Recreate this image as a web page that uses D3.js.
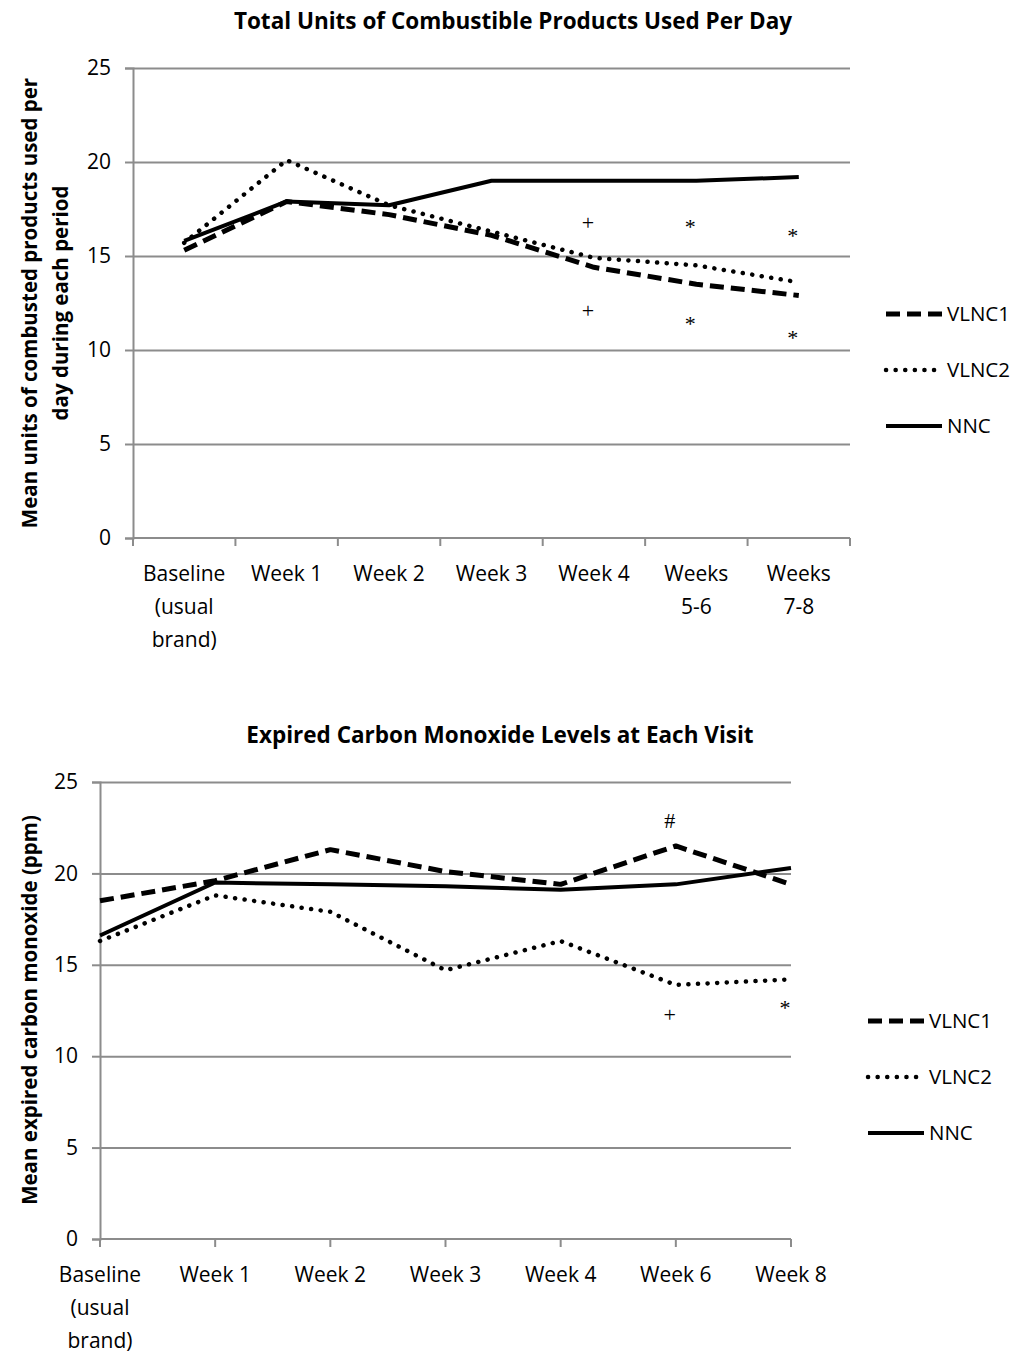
<!DOCTYPE html>
<html>
<head>
<meta charset="utf-8">
<script src="https://cdn.jsdelivr.net/npm/d3@7"></script>
<style>
  body { margin: 0; background: #fff; }
  text { font-family: "Open Sans", Lato, sans-serif; fill: #000; }
</style>
</head>
<body>
<div id="chart"></div>
<script>
// ---- data: top chart ----
const topCategories = [["Baseline", "(usual", "brand)"], ["Week 1"], ["Week 2"], ["Week 3"], ["Week 4"], ["Weeks", "5-6"], ["Weeks", "7-8"]];
const topVLNC1 = [15.3, 17.9, 17.2, 16.1, 14.4, 13.5, 12.9];
const topVLNC2 = [15.7, 20.1, 17.7, 16.3, 14.9, 14.5, 13.6];
const topNNC = [15.8, 17.9, 17.7, 19.0, 19.0, 19.0, 19.2];
const topTicks = [0, 5, 10, 15, 20, 25];
const topMarks = [
  {cat: 4, value: 16.8, sym: "+"}, {cat: 5, value: 16.6, sym: "*"}, {cat: 6, value: 16.1, sym: "*"},
  {cat: 4, value: 12.1, sym: "+"}, {cat: 5, value: 11.4, sym: "*"}, {cat: 6, value: 10.7, sym: "*"}
];

// ---- data: bottom chart ----
const botCategories = [["Baseline", "(usual", "brand)"], ["Week 1"], ["Week 2"], ["Week 3"], ["Week 4"], ["Week 6"], ["Week 8"]];
const botVLNC1 = [18.5, 19.6, 21.3, 20.1, 19.4, 21.5, 19.4];
const botVLNC2 = [16.3, 18.8, 17.9, 14.7, 16.3, 13.9, 14.2];
const botNNC = [16.6, 19.5, 19.4, 19.3, 19.1, 19.4, 20.3];
const botTicks = [0, 5, 10, 15, 20, 25];
const botMarks = [
  {cat: 5, value: 22.9, sym: "#"}, {cat: 5, value: 12.3, sym: "+"}, {cat: 6, value: 12.7, sym: "*"}
];

const seriesNames = ["VLNC1", "VLNC2", "NNC"];
const seriesStyle = {
  VLNC1: {dash: "14,7", width: 5, cap: "butt"},
  VLNC2: {dash: "0.1,9.5", width: 4.5, cap: "round"},
  NNC: {dash: null, width: 4, cap: "butt"}
};

const svg = d3.select("#chart").append("svg")
    .attr("width", 1021)
    .attr("height", 1355);

function drawChart(cfg) {
  const g = svg.append("g");
  const y = d3.scaleLinear().domain([0, 25]).range([cfg.bottom, cfg.top]);
  const keys = cfg.categories.map((d, i) => i);
  let x, xc;
  if (cfg.between) {
    x = d3.scaleBand().domain(keys).range([cfg.left, cfg.right]);
    xc = i => x(i) + x.bandwidth() / 2;
  } else {
    x = d3.scalePoint().domain(keys).range([cfg.left, cfg.right]);
    xc = i => x(i);
  }

  // gridlines
  g.append("g")
      .attr("transform", "translate(" + cfg.left + ",0)")
      .call(d3.axisRight(y).tickValues(cfg.ticks.slice(1)).tickSize(cfg.right - cfg.left).tickFormat(""))
      .call(a => a.select(".domain").remove())
      .selectAll("line").attr("stroke", "#8c8c8c").attr("stroke-width", 2);

  // y axis
  const ya = g.append("g")
      .attr("transform", "translate(" + cfg.left + ",0)")
      .call(d3.axisLeft(y).tickValues(cfg.ticks).tickSize(8).tickPadding(cfg.yPad));
  ya.select(".domain").attr("stroke", "#8c8c8c").attr("stroke-width", 2);
  ya.selectAll("line").attr("stroke", "#8c8c8c").attr("stroke-width", 2);
  ya.selectAll("text").style("font-size", "21px").attr("fill", "#000");

  // x axis line + tick marks
  const boundaries = cfg.between
      ? keys.map(k => x(k)).concat([cfg.right])
      : keys.map(k => x(k));
  g.append("line")
      .attr("x1", cfg.left).attr("x2", cfg.right)
      .attr("y1", cfg.bottom).attr("y2", cfg.bottom)
      .attr("stroke", "#8c8c8c").attr("stroke-width", 2);
  g.selectAll(".xtick").data(boundaries).enter().append("line")
      .attr("x1", d => d).attr("x2", d => d)
      .attr("y1", cfg.bottom).attr("y2", cfg.bottom + 8)
      .attr("stroke", "#8c8c8c").attr("stroke-width", 2);

  // x labels
  const xl = g.selectAll(".xlab").data(cfg.categories).enter().append("text")
      .attr("text-anchor", "middle")
      .style("font-size", "21px");
  xl.each(function (lines, i) {
    d3.select(this).selectAll("tspan").data(lines).enter().append("tspan")
        .attr("x", xc(i))
        .attr("y", (d, j) => cfg.bottom + 43 + j * 33)
        .text(d => d);
  });

  // lines
  const line = d3.line().x((d, i) => xc(i)).y(d => y(d));
  cfg.series.forEach((vals, s) => {
    const st = seriesStyle[seriesNames[s]];
    g.append("path")
        .datum(vals)
        .attr("d", line)
        .attr("fill", "none")
        .attr("stroke", "#000")
        .attr("stroke-width", st.width)
        .attr("stroke-linecap", st.cap)
        .attr("stroke-linejoin", "round")
        .attr("stroke-dasharray", st.dash);
  });

  // significance marks
  g.selectAll(".mark").data(cfg.marks).enter().append("text")
      .attr("x", d => xc(d.cat) - 6)
      .attr("y", d => y(d.value))
      .attr("dy", "0.35em")
      .attr("text-anchor", "middle")
      .style("font-family", "'Liberation Serif', serif")
      .style("font-size", "22px")
      .text(d => d.sym);

  // title
  g.append("text")
      .attr("x", cfg.titleX).attr("y", cfg.titleY)
      .attr("text-anchor", "middle")
      .style("font-size", "22.5px").style("font-weight", "bold")
      .text(cfg.title);

  // y label
  const yl = g.append("text")
      .attr("transform", "translate(" + cfg.ylabX + "," + cfg.ylabY + ") rotate(-90)")
      .attr("text-anchor", "middle")
      .style("font-size", "20.5px").style("font-weight", "bold");
  yl.selectAll("tspan").data(cfg.ylabel).enter().append("tspan")
      .attr("x", 0)
      .attr("dy", (d, i) => i === 0 ? 0 : 31)
      .text(d => d);

  // legend
  const lg = g.append("g");
  seriesNames.forEach((name, i) => {
    const st = seriesStyle[name];
    const ly = cfg.legendY + i * 56;
    lg.append("line")
        .attr("x1", cfg.legendX).attr("x2", cfg.legendX + 56)
        .attr("y1", ly).attr("y2", ly)
        .attr("stroke", "#000").attr("stroke-width", st.width)
        .attr("stroke-linecap", st.cap)
        .attr("stroke-dasharray", st.dash);
    lg.append("text")
        .attr("x", cfg.legendX + 61).attr("y", ly)
        .attr("dy", "0.35em")
        .style("font-size", "20.5px")
        .text(name);
  });
}

drawChart({
  title: "Total Units of Combustible Products Used Per Day",
  titleX: 513, titleY: 29,
  categories: topCategories, series: [topVLNC1, topVLNC2, topNNC], ticks: topTicks, marks: topMarks,
  left: 133, right: 850, top: 68, bottom: 538, between: true, yPad: 14,
  ylabel: ["Mean units of combusted products used per", "day during each period"], ylabX: 37, ylabY: 303,
  legendX: 886, legendY: 314
});

drawChart({
  title: "Expired Carbon Monoxide Levels at Each Visit",
  titleX: 500, titleY: 743,
  categories: botCategories, series: [botVLNC1, botVLNC2, botNNC], ticks: botTicks, marks: botMarks,
  left: 100, right: 791, top: 782, bottom: 1239, between: false, yPad: 14,
  ylabel: ["Mean expired carbon monoxide (ppm)"], ylabX: 37, ylabY: 1010,
  legendX: 868, legendY: 1021
});
</script>
</body>
</html>
